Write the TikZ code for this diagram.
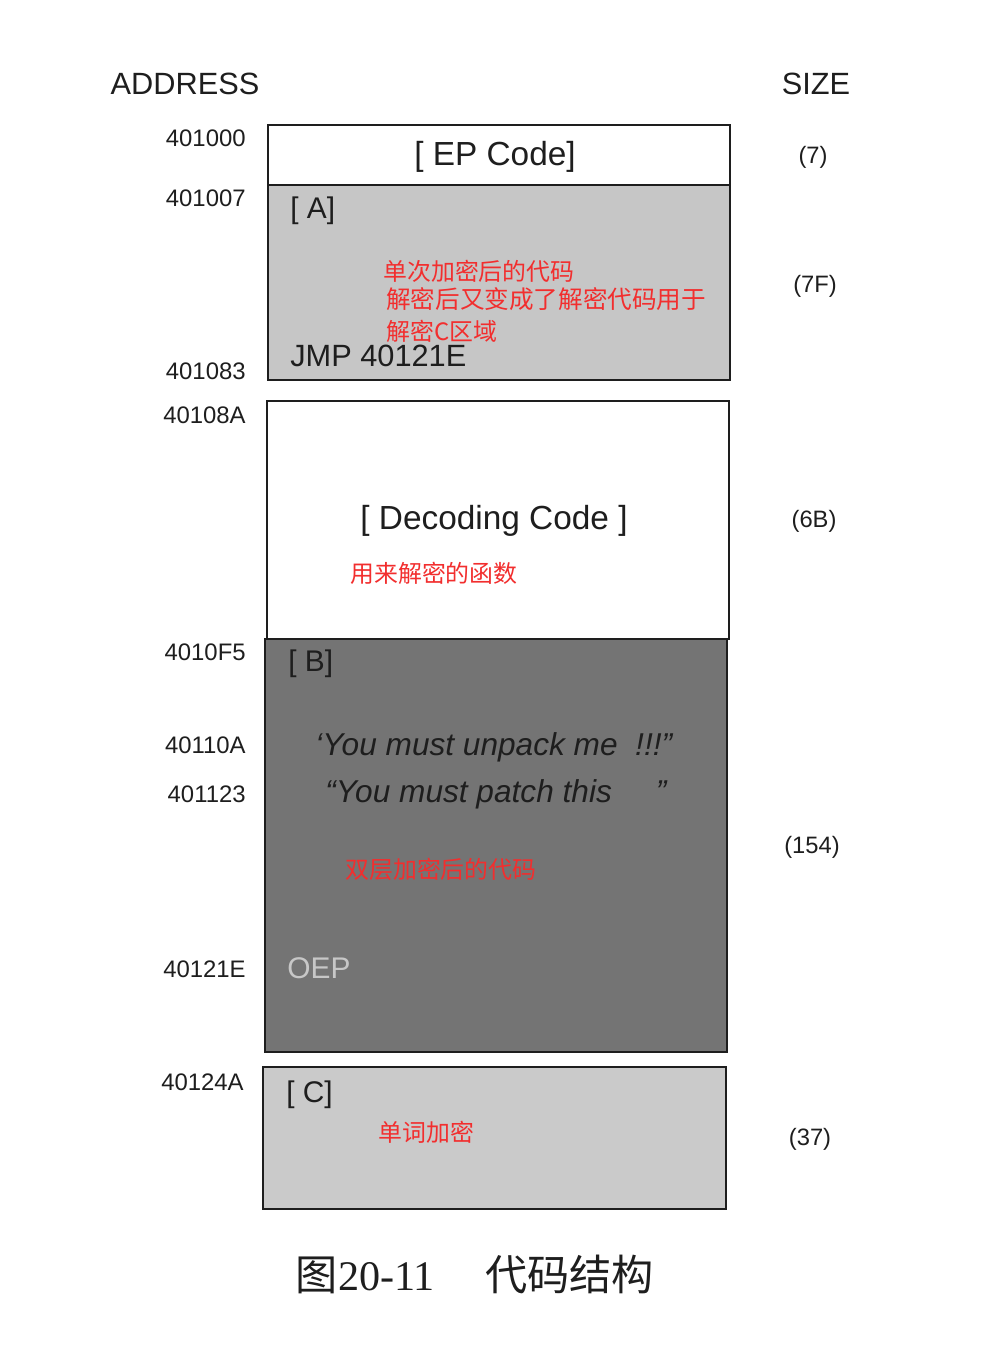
\documentclass[tikz,border=0pt]{standalone}
\usepackage{fontspec}
\setmainfont{Liberation Sans}
\newfontfamily\cjk{Noto Sans CJK SC}
\newfontfamily\capfont{Liberation Serif}
\usepackage{tikz}
\usetikzlibrary{positioning}
\definecolor{lightfill}{HTML}{C6C6C6}
\definecolor{darkfill}{HTML}{747474}
\definecolor{cfill}{HTML}{CACACA}
\definecolor{notered}{HTML}{F22E2E}
\definecolor{ink}{HTML}{1E1E1E}
\tikzset{block/.style = {draw=ink, line width=1.5pt}}
\tikzset{addr/.style = {anchor=east, inner sep=0pt, text=ink, font=\fontsize{13.6}{15}\selectfont}}
\tikzset{size/.style = {inner sep=0pt, text=ink, font=\fontsize{13.5}{15}\selectfont}}
\tikzset{head/.style = {inner sep=0pt, text=ink, font=\fontsize{17.5}{19}\selectfont}}
\tikzset{tag/.style = {anchor=west, inner sep=0pt, text=ink, font=\fontsize{17}{19}\selectfont}}
\tikzset{note/.style = {anchor=west, inner sep=0pt, text=notered, font=\cjk\fontsize{13.6}{16}\selectfont}}

\begin{document}
\begin{tikzpicture}[x=0.02cm, y=-0.02cm]
            \useasboundingbox (0,0) rectangle (1000,1355);

            % Blocks
            \draw[block, fill=white] (268,125) rectangle (730,185);
            \draw[block, fill=lightfill] (268,185) rectangle (730,380);
            \draw[block, fill=white] (267,401) rectangle (729,639);
            \draw[block, fill=darkfill] (265,639) rectangle (727,1052);
            \draw[block, fill=cfill] (263,1067) rectangle (726,1209);

            % Headings
            \node[head] (address) at (185,84) {ADDRESS};
            \node[head] (sizehead) at (816,84) {SIZE};

            % Addresses
            \node[addr] (ad1) at (246,138) {401000};
            \node[addr] (ad2) at (246,198) {401007};
            \node[addr] (ad3) at (246,371) {401083};
            \node[addr] (ad4) at (246,415) {40108A};
            \node[addr] (ad5) at (246,652) {4010F5};
            \node[addr] (ad6) at (246,745) {40110A};
            \node[addr] (ad7) at (246,794) {401123};
            \node[addr] (ad8) at (246,969) {40121E};
            \node[addr] (ad9) at (244,1082) {40124A};

            % Sizes
            \node[size] (sz1) at (813,157) {(7)};
            \node[size] (sz2) at (815,286) {(7F)};
            \node[size] (sz3) at (814,521) {(6B)};
            \node[size] (sz4) at (812,847) {(154)};
            \node[size] (sz5) at (810,1139) {(37)};

            % EP code and A
            \node[head, font=\fontsize{19}{21}\selectfont] (ep) at (495,157) {[ EP Code]};
            \node[tag] (taga) at (290,211) {[ A]};
            \node[note] (na1) at (383,271) {单次加密后的代码};
            \node[note, font=\cjk\fontsize{14}{16}\selectfont] (na2) at (386,299) {解密后又变成了解密代码用于};
            \node[note] (na3) at (386,331) {解密C区域};
            \node[tag, font=\fontsize{17.5}{19}\selectfont] (jmp) at (290,356) {JMP 40121E};

            % Decoding
            \node[head, font=\fontsize{19}{21}\selectfont] (dec) at (494,521) {[ Decoding Code ]};
            \node[note] (nd) at (350,573) {用来解密的函数};

            % B
            \node[tag] (tagb) at (288,664) {[ B]};
            \node[tag, font=\itshape\fontsize{18}{19}\selectfont] (msg1) at (315,747) {`You must unpack me\ \ !!!''};
            \node[tag, font=\itshape\fontsize{18}{19}\selectfont] (msg2) at (325,794) {``You must patch this\ \ \ \ \ ''};
            \node[note] (nb) at (345,869) {双层加密后的代码};
            \node[tag, text=black!22] (oep) at (287,968) {OEP};

            % C
            \node[tag] (tagc) at (286,1095) {[ C]};
            \node[note] (nc) at (378,1132) {单词加密};

            % Caption
            \node[inner sep=0pt, text=ink, font=\fontsize{24}{26}\selectfont] (cap) at (475,1274)
                {{\cjk 图}{\capfont 20-11}\hspace{1.2em}{\cjk 代码结构}};
        \end{tikzpicture}
\end{document}
